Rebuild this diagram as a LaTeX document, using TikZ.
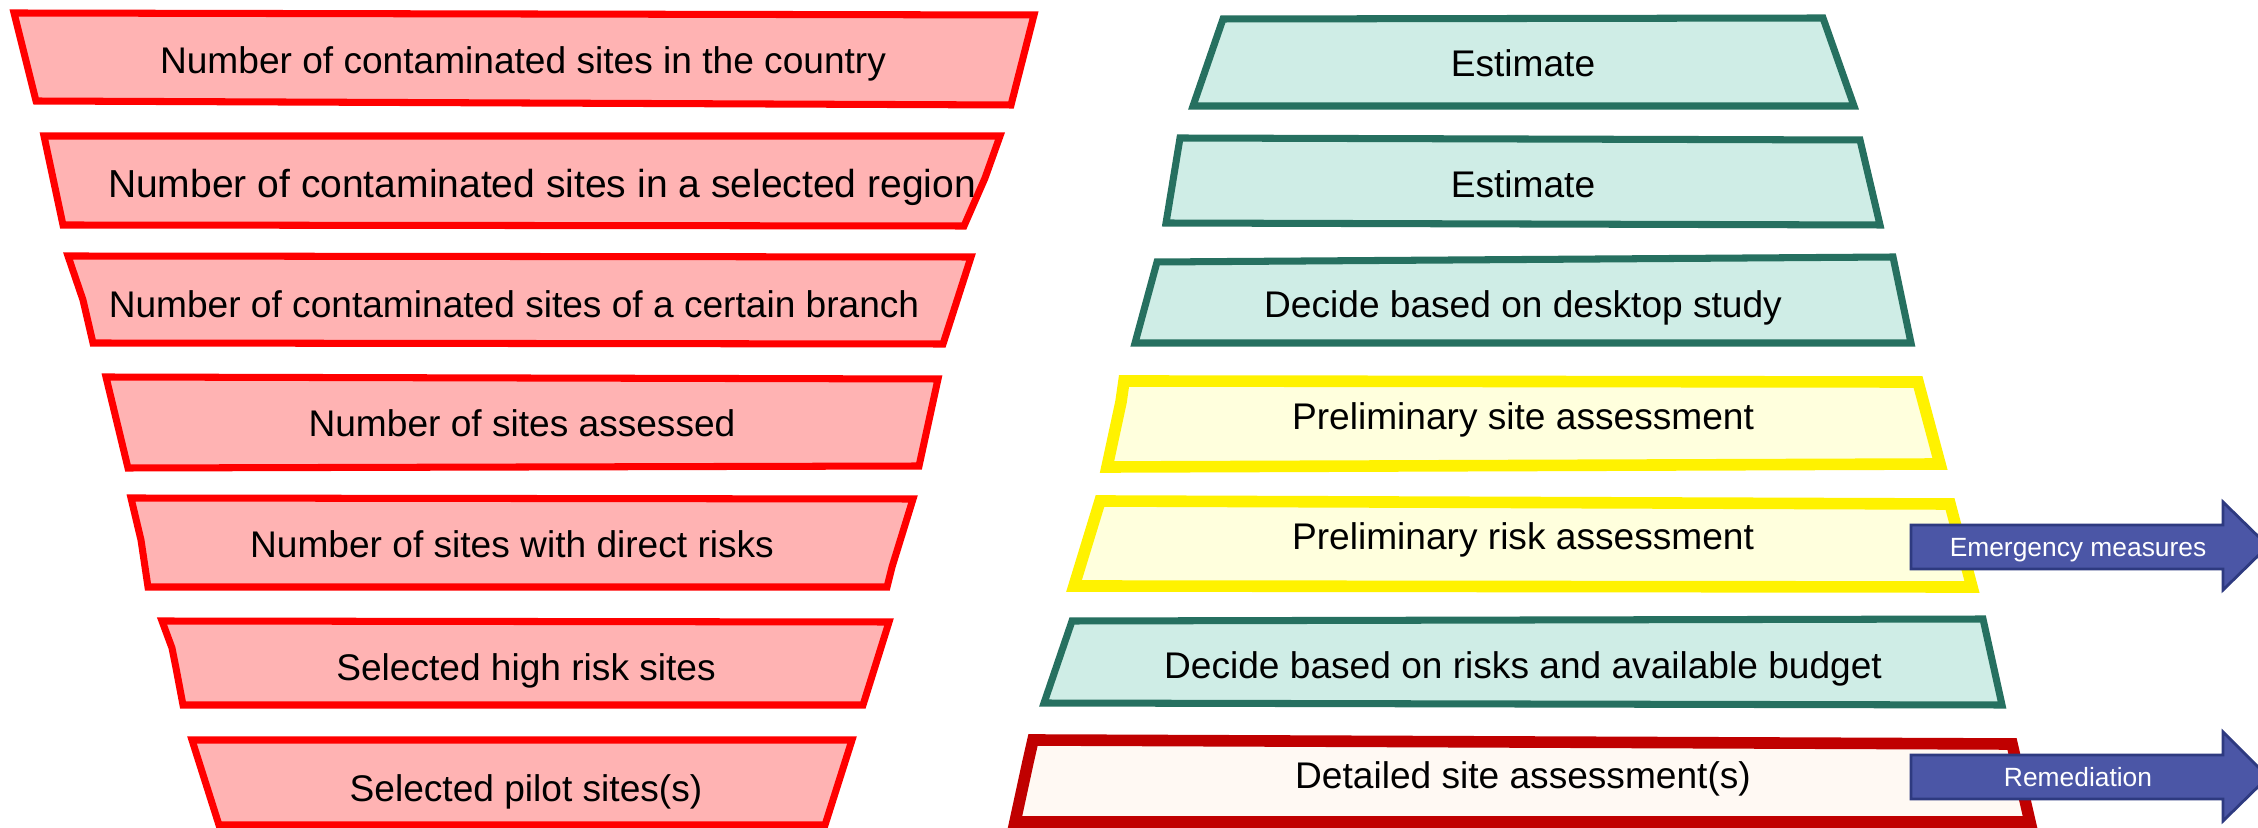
\documentclass[tikz,border=0pt]{standalone}
\usepackage{fontspec}
\setmainfont{Liberation Sans}
\definecolor{cntfill}{RGB}{255,179,179}
\definecolor{actline}{RGB}{38,112,96}
\definecolor{actfill}{RGB}{207,237,230}
\definecolor{prelimfill}{RGB}{255,255,221}
\definecolor{detailline}{RGB}{192,0,0}
\definecolor{detailfill}{RGB}{255,249,243}
\definecolor{arrline}{RGB}{46,58,128}
\definecolor{arrfill}{RGB}{75,86,166}
\begin{document}
\begin{tikzpicture}[x=0.01cm,y=-0.01cm,
        cnt/.style={draw=red,fill=cntfill,line width=2pt},
        act/.style={draw=actline,fill=actfill,line width=2pt},
        prelim/.style={draw=yellow,fill=prelimfill,line width=3.3pt},
        detail/.style={draw=detailline,fill=detailfill,line width=3.3pt},
        outarrow/.style={draw=arrline,fill=arrfill,line width=0.8pt},
        txt/.style={font=\fontsize{#1}{13}\selectfont,inner sep=0pt,text height=0.716*#1pt,text depth=0pt},
        txt/.default=10.55,
        arrtxt/.style={font=\fontsize{7.5}{9}\selectfont,text=white,inner sep=0pt,text height=5.4pt,text depth=0pt}]
        \clip (0,0) rectangle (2258,828);

        % counts, left funnel
        \draw[cnt] (14,13) -- (1034,15) -- (1011,105) -- (36,101) -- cycle;
        \draw[cnt] (44,136) -- (1000,136) -- (985,178) -- (964,226) -- (63,225) -- cycle;
        \draw[cnt] (68,256) -- (971,257) -- (943,344) -- (93,343) -- (83,300) -- cycle;
        \draw[cnt] (106,377) -- (938,379) -- (919,466) -- (128,468) -- cycle;
        \draw[cnt] (131,498) -- (913,499) -- (892,567) -- (887,587) -- (148,587) -- (141,540) -- cycle;
        \draw[cnt] (162,621) -- (889,622) -- (863,705) -- (183,705) -- (176,668) -- (172,648) -- cycle;
        \draw[cnt] (192,740) -- (852,740) -- (825,825) -- (219,825) -- cycle;

        \foreach \x/\y/\s/\t [count=\i] in {523/60/10.55/Number of contaminated sites in the country,
                542/184/11.1/Number of contaminated sites in a selected region,
                514/304/10.55/Number of contaminated sites of a certain branch,
                522/423/10.55/Number of sites assessed,
                512/544/10.55/Number of sites with direct risks,
                526/667/10.55/Selected high risk sites,
                526/788/10.55/Selected pilot sites(s)}
            {
                \node (cnt\i) at (\x,\y)[txt=\s]{\t};
            }

        % actions, right column
        \draw[act] (1223,19) -- (1823,18) -- (1854,106) -- (1193,106) -- cycle;
        \draw[act] (1180,138) -- (1860,140) -- (1880,225) -- (1166,223) -- cycle;
        \draw[act] (1157,262) -- (1893,257) -- (1911,343) -- (1135,343) -- cycle;
        \draw[prelim] (1124,381) -- (1918,382) -- (1940,464) -- (1107,467) -- (1121,402) -- cycle;
        \draw[prelim] (1100,501) -- (1950,504) -- (1972,587) -- (1074,586) -- cycle;
        \draw[act] (1072,621) -- (1983,619) -- (2002,705) -- (1044,703) -- cycle;
        \draw[detail] (1033,740) -- (2012,744) -- (2030,822) -- (1015,822) -- (1028,762) -- cycle;

        \foreach \y/\t [count=\i] in {63/Estimate,
                184/Estimate,
                304/Decide based on desktop study,
                416/Preliminary site assessment,
                536/Preliminary risk assessment,
                665/Decide based on risks and available budget,
                775/Detailed site assessment(s)}
            {
                \node (act\i) at (1523,\y)[txt]{\t};
            }

        % way out
        \draw[outarrow] (1911,525) -- (2223,525) -- (2223,502) -- (2268,546) -- (2223,590) -- (2223,569) -- (1911,569) -- cycle;
        \draw[outarrow] (1911,755) -- (2223,755) -- (2223,732) -- (2268,777) -- (2223,821) -- (2223,799) -- (1911,799) -- cycle;
        \node (emerg) at (2078,547)[arrtxt]{Emergency measures};
        \node (remed) at (2078,777)[arrtxt]{Remediation};
    \end{tikzpicture}
\end{document}
